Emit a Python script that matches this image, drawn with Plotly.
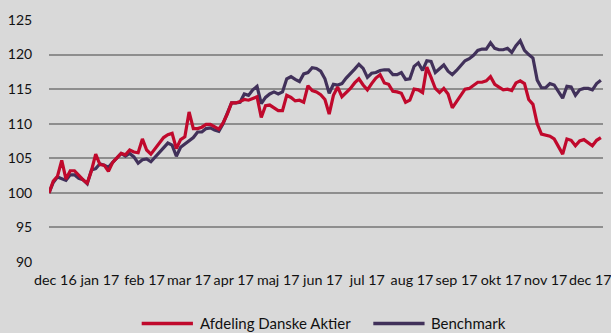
import plotly.graph_objects as go

# trading-day index (every 2nd trading day from 30 Dec 2016)
days = list(range(0, 261, 2))

fund = [100, 101.7, 102.4, 104.7, 102, 103.2, 103.2, 102.5, 101.9, 101.4,
        103.2, 105.6, 104.1, 104, 103.1, 104.4, 105.1, 105.7, 105.5, 106.2,
        105.9, 105.8, 107.8, 106.2, 105.6, 106.4, 107.1, 108, 108.4, 108.6,
        106.4, 107.7, 108.1, 111.7, 109.3, 109.3, 109.5, 109.9, 109.9, 109.5,
        109.2, 110.1, 111.4, 113, 113, 113.2, 113.5, 113.4, 113.7, 113.9,
        110.9, 112.6, 112.7, 112.3, 111.9, 111.9, 114.1, 113.8, 113.3, 113.4,
        113.1, 115.5, 114.8, 114.6, 114.2, 113.5, 111.4, 114.1, 115.3, 113.9,
        114.5, 115.1, 115.9, 116.5, 115.6, 114.9, 115.8, 116.6, 117.1, 115.9,
        115.7, 114.7, 114.6, 114.4, 113.1, 113.4, 115, 114.9, 114.5, 118.2,
        116.7, 115.1, 114.5, 115.1, 114.3, 112.3, 113.2, 114.1, 115, 115.1,
        115.6, 116, 116, 116.2, 116.8, 115.7, 115.3, 114.9, 115, 114.8,
        115.9, 116.2, 115.8, 113.5, 112.8, 110, 108.5, 108.4, 108.2, 107.8,
        106.8, 105.6, 107.8, 107.6, 106.8, 107.5, 107.7, 107.3, 106.8, 107.6,
        108]

bench = [100, 101.5, 102.3, 102.1, 101.8, 102.6, 102.6, 102.1, 101.9, 101.3,
         103.3, 103.5, 104.2, 104, 103.7, 104.4, 105.1, 105.7, 105.3, 105.7,
         105.2, 104.3, 104.8, 104.9, 104.5, 105.2, 105.9, 106.6, 107.2, 106.9,
         105.3, 106.6, 107.1, 107.6, 108, 108.8, 108.8, 109.3, 109.4, 109.1,
         108.9, 110, 111.6, 113, 113, 113.1, 114.3, 114.1, 114.9, 115.4,
         112.9, 113.8, 114.3, 114.6, 114.3, 114.6, 116.5, 116.8, 116.4, 116.1,
         117.2, 117.4, 118.1, 118, 117.6, 116.5, 114.4, 115.7, 115.6, 115.8,
         116.6, 117.2, 117.9, 118.6, 118, 116.7, 117.3, 117.4, 117.7, 117.8,
         117.8, 117.1, 117.1, 117.4, 116.4, 116.5, 118.3, 118.8, 117.7, 119.1,
         119, 117.4, 118, 118.5, 117.6, 117.1, 117.7, 118.4, 119.1, 119.4,
         119.9, 120.6, 120.8, 120.8, 121.7, 120.9, 120.7, 120.7, 120.9, 120.3,
         121.3, 122, 120.6, 120, 119.5, 116.3, 115.2, 115.2, 115.8, 115.6,
         114.7, 113.7, 115.4, 115.3, 114.1, 114.9, 115.1, 115.1, 114.9, 115.8,
         116.3]

tick_days = [3, 24, 45, 66, 87, 108, 129, 150, 171, 192, 213, 234, 255]
tick_labels = ["dec 16", "jan 17", "feb 17", "mar 17", "apr 17", "maj 17",
               "jun 17", "jul 17", "aug 17", "sep 17", "okt 17", "nov 17",
               "dec 17"]
y_ticks = [90, 95, 100, 105, 110, 115, 120, 125]

series_names = ["Afdeling Danske Aktier", "Benchmark"]
RED = "#C0092C"
PURPLE = "#41315A"
BG = "#D9D9D9"
FONT = "Lato"
TXT = "#111111"

fig = go.Figure()
fig.add_trace(go.Scatter(x=days, y=bench, mode="lines", name=series_names[1],
                         line=dict(color=PURPLE, width=3.2), showlegend=False))
fig.add_trace(go.Scatter(x=days, y=fund, mode="lines", name=series_names[0],
                         line=dict(color=RED, width=3.2), showlegend=False))

fig.update_layout(
    width=611, height=333,
    margin=dict(l=49, r=0, t=20, b=71),
    paper_bgcolor=BG, plot_bgcolor=BG,
    font=dict(family=FONT, size=14, color=TXT),
    xaxis=dict(range=[0, 261], tickmode="array", tickvals=tick_days,
               ticktext=tick_labels, showgrid=False, zeroline=False,
               showline=False, ticks="outside", ticklen=5,
               tickcolor="rgba(0,0,0,0)", tickfont=dict(size=14.3),
               tickangle=0, ticklabeloverflow="allow"),
    yaxis=dict(range=[90, 125], tickmode="array", tickvals=y_ticks,
               showgrid=True, gridcolor="#8E8E8E", gridwidth=2,
               zeroline=False, showline=False, ticks="outside", ticklen=13,
               tickcolor="rgba(0,0,0,0)", tickfont=dict(size=14)),
)

# legend drawn below the plot
ly = -0.254
fig.add_shape(type="line", xref="paper", yref="paper", x0=0.1673, x1=0.2598,
              y0=ly, y1=ly, line=dict(color=RED, width=3.5))
fig.add_shape(type="line", xref="paper", yref="paper", x0=0.5854, x1=0.6779,
              y0=ly, y1=ly, line=dict(color=PURPLE, width=3.5))
fig.add_annotation(xref="paper", yref="paper", x=0.2687, y=ly, text=series_names[0],
                   showarrow=False, xanchor="left", yanchor="middle",
                   font=dict(size=15, family=FONT, color=TXT))
fig.add_annotation(xref="paper", yref="paper", x=0.6868, y=ly, text=series_names[1],
                   showarrow=False, xanchor="left", yanchor="middle",
                   font=dict(size=15, family=FONT, color=TXT))

fig.write_html("out.html")
